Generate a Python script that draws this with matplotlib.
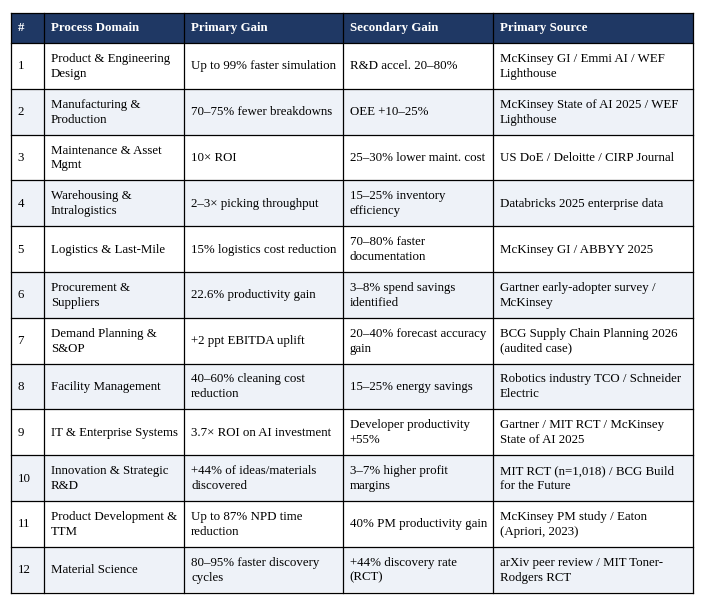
import matplotlib.pyplot as plt
from matplotlib.patches import Rectangle

# table content
headers = ['#', 'Process Domain', 'Primary Gain', 'Secondary Gain', 'Primary Source']
row_ids = ['1', '2', '3', '4', '5', '6', '7', '8', '9', '10', '11', '12']
domains = [
    'Product & Engineering\nDesign',
    'Manufacturing &\nProduction',
    'Maintenance & Asset\nMgmt',
    'Warehousing &\nIntralogistics',
    'Logistics & Last-Mile',
    'Procurement &\nSuppliers',
    'Demand Planning &\nS&OP',
    'Facility Management',
    'IT & Enterprise Systems',
    'Innovation & Strategic\nR&D',
    'Product Development &\nTTM',
    'Material Science',
]
primary_gain = [
    'Up to 99% faster simulation',
    '70\u201375% fewer breakdowns',
    '10\u00d7 ROI',
    '2\u20133\u00d7 picking throughput',
    '15% logistics cost reduction',
    '22.6% productivity gain',
    '+2 ppt EBITDA uplift',
    '40\u201360% cleaning cost\nreduction',
    '3.7\u00d7 ROI on AI investment',
    '+44% of ideas/materials\ndiscovered',
    'Up to 87% NPD time\nreduction',
    '80\u201395% faster discovery\ncycles',
]
secondary_gain = [
    'R&D accel. 20\u201380%',
    'OEE +10\u201325%',
    '25\u201330% lower maint. cost',
    '15\u201325% inventory\nefficiency',
    '70\u201380% faster\ndocumentation',
    '3\u20138% spend savings\nidentified',
    '20\u201340% forecast accuracy\ngain',
    '15\u201325% energy savings',
    'Developer productivity\n+55%',
    '3\u20137% higher profit\nmargins',
    '40% PM productivity gain',
    '+44% discovery rate\n(RCT)',
]
sources = [
    'McKinsey GI / Emmi AI / WEF\nLighthouse',
    'McKinsey State of AI 2025 / WEF\nLighthouse',
    'US DoE / Deloitte / CIRP Journal',
    'Databricks 2025 enterprise data',
    'McKinsey GI / ABBYY 2025',
    'Gartner early-adopter survey /\nMcKinsey',
    'BCG Supply Chain Planning 2026\n(audited case)',
    'Robotics industry TCO / Schneider\nElectric',
    'Gartner / MIT RCT / McKinsey\nState of AI 2025',
    'MIT RCT (n=1,018) / BCG Build\nfor the Future',
    'McKinsey PM study / Eaton\n(Apriori, 2023)',
    'arXiv peer review / MIT Toner-\nRodgers RCT',
]

plt.rcParams['font.family'] = ['Liberation Serif', 'DejaVu Serif']

fig = plt.figure(figsize=(7.05, 6.05), dpi=100)
ax = fig.add_axes([0, 0, 1, 1])
ax.set_xlim(0, 705)
ax.set_ylim(605, 0)
ax.axis('off')

col_x = [10.5, 44, 184, 342.5, 493, 693]
top = 12.5
head_bottom = 43
bottom = 592.5
n = len(row_ids)
row_h = (bottom - head_bottom) / n
fs = 9.3
navy = '#1F3864'

# header
ax.add_patch(Rectangle((col_x[0], top), col_x[-1] - col_x[0], head_bottom - top,
                       facecolor=navy, edgecolor='none'))
for j, h in enumerate(headers):
    ax.text(col_x[j] + 7, (top + head_bottom) / 2 + 0.5, h, color='white', fontsize=fs,
            fontweight='bold', va='center', ha='left')

# body rows
columns = [row_ids, domains, primary_gain, secondary_gain, sources]
for i in range(n):
    y0 = head_bottom + i * row_h
    if i % 2 == 1:
        ax.add_patch(Rectangle((col_x[0], y0), col_x[-1] - col_x[0], row_h,
                               facecolor='#EEF2F8', edgecolor='none'))
    for j, col in enumerate(columns):
        ax.text(col_x[j] + 7, y0 + row_h / 2 + 0.5, col[i], fontsize=fs, color='black',
                va='center', ha='left', linespacing=1.32)

# grid lines
for x in col_x:
    ax.plot([x, x], [top, bottom], color='black', lw=0.9)
for k in range(n + 1):
    y = head_bottom + k * row_h
    ax.plot([col_x[0], col_x[-1]], [y, y], color='black', lw=0.9)
ax.plot([col_x[0], col_x[-1]], [top, top], color='black', lw=0.9)

fig.savefig('out.png', dpi=100)
